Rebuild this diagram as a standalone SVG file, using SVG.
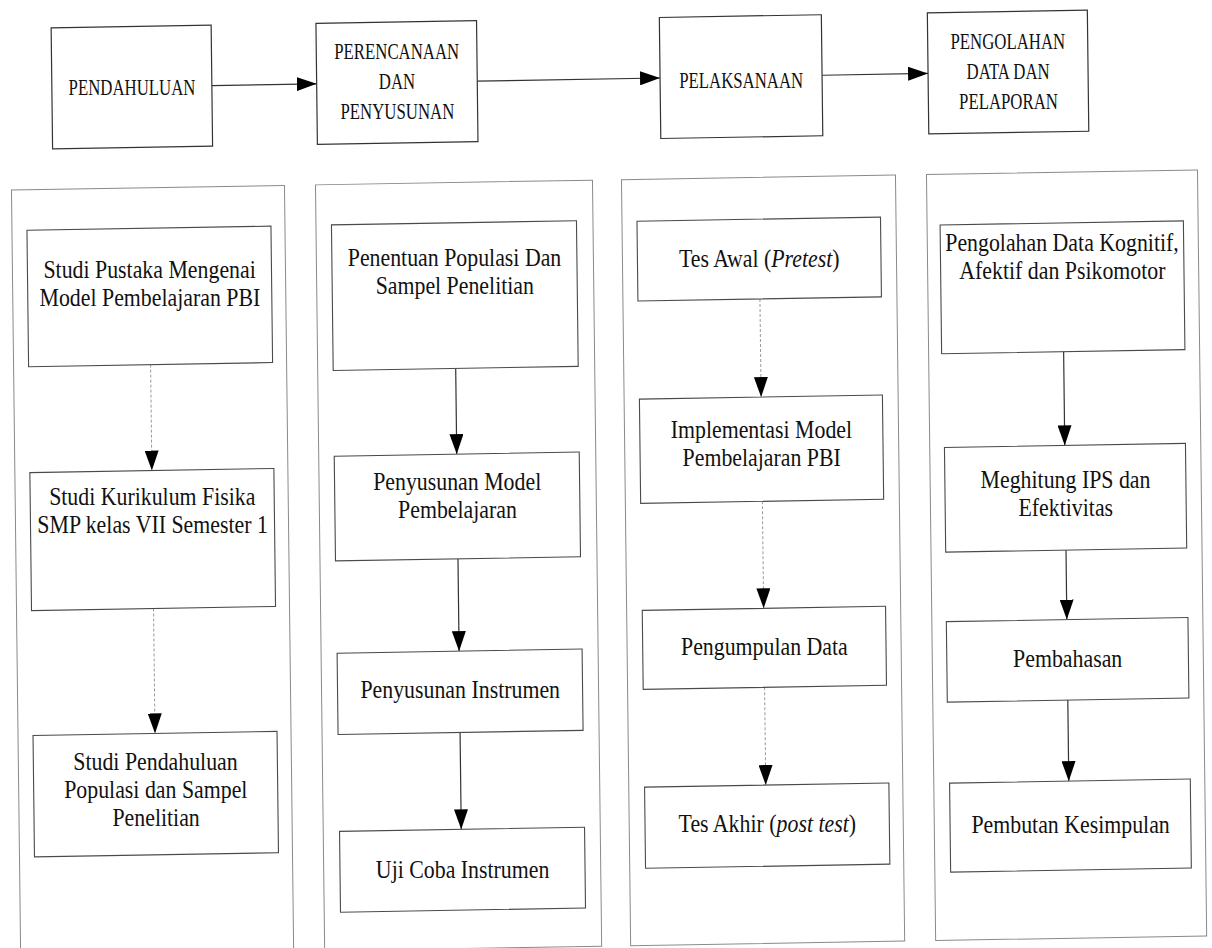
<svg xmlns="http://www.w3.org/2000/svg" width="1212" height="948" viewBox="0 0 1212 948">
<style>
.hbox{fill:#fff;stroke:#333;stroke-width:1.2}
.col{fill:none;stroke:#8a8a8a;stroke-width:1}
.node{fill:#fff;stroke:#4a4a4a;stroke-width:1.1}
.solid{fill:none;stroke:#333;stroke-width:1.2}
.dash{fill:none;stroke:#9a9a9a;stroke-width:1;stroke-dasharray:3 2}
text{font-family:"Liberation Serif","Times New Roman",serif;fill:#111;text-anchor:middle}
.h{font-size:24px}
.b{font-size:25px}
.i{font-style:italic}
</style>
<defs>
<marker id="ah" viewBox="0 0 20 14" refX="20" refY="7" markerWidth="20" markerHeight="14" markerUnits="userSpaceOnUse" orient="auto">
<path d="M0,0 L20,7 L0,14 z" fill="#000"/>
</marker>
</defs>
<rect width="1212" height="948" fill="#fff"/>
<g id="shapes" transform="translate(606 474) matrix(1 -0.017 0.012 1 0 0) translate(-606 -474)">
<g id="columns">
<rect class="col" x="15" y="180" width="273" height="766"/>
<rect class="col" x="319" y="180" width="277" height="766"/>
<rect class="col" x="625" y="180" width="274" height="766"/>
<rect class="col" x="930" y="180" width="271" height="766"/>
</g>
<g id="connectors">
<line class="solid" x1="216.6" y1="79" x2="321.4" y2="79" marker-end="url(#ah)"/>
<line class="solid" x1="482" y1="79" x2="664.8" y2="79" marker-end="url(#ah)"/>
<line class="solid" x1="826.8" y1="79" x2="932.8" y2="79" marker-end="url(#ah)"/>
<line class="dash" x1="152" y1="356.9" x2="152" y2="462.8" marker-end="url(#ah)"/>
<line class="dash" x1="152" y1="600.8" x2="152" y2="725.7" marker-end="url(#ah)"/>
<line class="solid" x1="457" y1="365.9" x2="457" y2="451.6" marker-end="url(#ah)"/>
<line class="solid" x1="457" y1="556.3" x2="457" y2="648.6" marker-end="url(#ah)"/>
<line class="solid" x1="457" y1="729.9" x2="457" y2="826.8" marker-end="url(#ah)"/>
<line class="dash" x1="762" y1="301.6" x2="762" y2="399.7" marker-end="url(#ah)"/>
<line class="dash" x1="762" y1="504" x2="762" y2="611" marker-end="url(#ah)"/>
<line class="dash" x1="762" y1="690" x2="762" y2="787.7" marker-end="url(#ah)"/>
<line class="solid" x1="1065" y1="359.5" x2="1065" y2="453.2" marker-end="url(#ah)"/>
<line class="solid" x1="1065" y1="557.9" x2="1065" y2="627.4" marker-end="url(#ah)"/>
<line class="solid" x1="1065" y1="707.9" x2="1065" y2="788.9" marker-end="url(#ah)"/>
</g>
<g id="pendahuluan-box"><rect class="hbox" x="56.6" y="18.5" width="160" height="121"/></g>
<g id="perencanaan-box"><rect class="hbox" x="321.4" y="18.5" width="160.6" height="121"/></g>
<g id="pelaksanaan-box"><rect class="hbox" x="664.8" y="18.5" width="162" height="121"/></g>
<g id="pengolahan-box"><rect class="hbox" x="932.8" y="18.5" width="160" height="121"/></g>
<g id="studi-pustaka-box"><rect class="node" x="30" y="220.5" width="244" height="136.4"/></g>
<g id="studi-kurikulum-box"><rect class="node" x="30" y="462.8" width="244" height="138"/></g>
<g id="studi-pendahuluan-box"><rect class="node" x="30" y="725.7" width="244" height="121.4"/></g>
<g id="penentuan-populasi-box"><rect class="node" x="334.5" y="220.3" width="245" height="145.6"/></g>
<g id="penyusunan-model-box"><rect class="node" x="334.5" y="451.6" width="245" height="104.7"/></g>
<g id="penyusunan-instrumen-box"><rect class="node" x="335" y="648.6" width="245" height="81.3"/></g>
<g id="uji-coba-box"><rect class="node" x="335.3" y="826.8" width="245" height="80.8"/></g>
<g id="tes-awal-box"><rect class="node" x="640" y="221.8" width="243.5" height="79.8"/></g>
<g id="implementasi-box"><rect class="node" x="640.3" y="399.7" width="243" height="104.3"/></g>
<g id="pengumpulan-box"><rect class="node" x="640.6" y="611" width="243.3" height="79"/></g>
<g id="tes-akhir-box"><rect class="node" x="640.8" y="787.7" width="244.3" height="81.2"/></g>
<g id="pengolahan-data-box"><rect class="node" x="943" y="230.7" width="243.3" height="128.8"/></g>
<g id="menghitung-box"><rect class="node" x="944.7" y="453.2" width="241" height="104.7"/></g>
<g id="pembahasan-box"><rect class="node" x="944.5" y="627.4" width="241.6" height="80.5"/></g>
<g id="kesimpulan-box"><rect class="node" x="945.8" y="788.9" width="240.7" height="89"/></g>
</g>
<g id="labels">
<g id="pendahuluan">
<text class="h" transform="translate(132 0) scale(0.7 1)" x="0" y="95">PENDAHULUAN</text>
</g>
<g id="perencanaan">
<text class="h" transform="translate(396.7 0) scale(0.7 1)" x="0" y="59">PERENCANAAN</text>
<text class="h" transform="translate(397 0) scale(0.7 1)" x="0" y="89">DAN</text>
<text class="h" transform="translate(397.4 0) scale(0.7 1)" x="0" y="119">PENYUSUNAN</text>
</g>
<g id="pelaksanaan">
<text class="h" transform="translate(741.2 0) scale(0.7 1)" x="0" y="87.6">PELAKSANAAN</text>
</g>
<g id="pengolahan">
<text class="h" transform="translate(1007.8 0) scale(0.7 1)" x="0" y="48.6">PENGOLAHAN</text>
<text class="h" transform="translate(1008.1 0) scale(0.7 1)" x="0" y="78.6">DATA DAN</text>
<text class="h" transform="translate(1008.5 0) scale(0.7 1)" x="0" y="108.6">PELAPORAN</text>
</g>
<g id="studi-pustaka">
<text class="b" transform="translate(149.6 0) scale(0.874 1)" x="0" y="277.7">Studi Pustaka Mengenai</text>
<text class="b" transform="translate(149.9 0) scale(0.874 1)" x="0" y="305.7">Model Pembelajaran PBI</text>
</g>
<g id="studi-kurikulum">
<text class="b" transform="translate(152.3 0) scale(0.874 1)" x="0" y="505">Studi Kurikulum Fisika</text>
<text class="b" transform="translate(152.6 0) scale(0.874 1)" x="0" y="533">SMP kelas VII Semester 1</text>
</g>
<g id="studi-pendahuluan">
<text class="b" transform="translate(155.5 0) scale(0.874 1)" x="0" y="769.7">Studi Pendahuluan</text>
<text class="b" transform="translate(155.8 0) scale(0.874 1)" x="0" y="797.7">Populasi dan Sampel</text>
<text class="b" transform="translate(156.1 0) scale(0.874 1)" x="0" y="825.7">Penelitian</text>
</g>
<g id="penentuan-populasi">
<text class="b" transform="translate(454.5 0) scale(0.874 1)" x="0" y="266.5">Penentuan Populasi Dan</text>
<text class="b" transform="translate(454.8 0) scale(0.874 1)" x="0" y="294.5">Sampel Penelitian</text>
</g>
<g id="penyusunan-model">
<text class="b" transform="translate(457.2 0) scale(0.874 1)" x="0" y="490">Penyusunan Model</text>
<text class="b" transform="translate(457.5 0) scale(0.874 1)" x="0" y="518">Pembelajaran</text>
</g>
<g id="penyusunan-instrumen">
<text class="b" transform="translate(460.2 0) scale(0.874 1)" x="0" y="698.3">Penyusunan Instrumen</text>
</g>
<g id="uji-coba">
<text class="b" transform="translate(462.6 0) scale(0.874 1)" x="0" y="878.4">Uji Coba Instrumen</text>
</g>
<g id="tes-awal">
<text class="b" transform="translate(759.3 0) scale(0.874 1)" x="0" y="266.6">Tes Awal (<tspan class="i">Pretest</tspan>)</text>
</g>
<g id="implementasi">
<text class="b" transform="translate(761.4 0) scale(0.874 1)" x="0" y="438">Implementasi Model</text>
<text class="b" transform="translate(761.7 0) scale(0.874 1)" x="0" y="466">Pembelajaran PBI</text>
</g>
<g id="pengumpulan">
<text class="b" transform="translate(764.4 0) scale(0.874 1)" x="0" y="655">Pengumpulan Data</text>
</g>
<g id="tes-akhir">
<text class="b" transform="translate(767.3 0) scale(0.874 1)" x="0" y="831.7">Tes Akhir (<tspan class="i">post test</tspan>)</text>
</g>
<g id="pengolahan-data">
<text class="b" transform="translate(1062 0) scale(0.874 1)" x="0" y="251.2">Pengolahan Data Kognitif,</text>
<text class="b" transform="translate(1062.4 0) scale(0.874 1)" x="0" y="279.2">Afektif dan Psikomotor</text>
</g>
<g id="menghitung">
<text class="b" transform="translate(1065.5 0) scale(0.874 1)" x="0" y="488">Meghitung IPS dan</text>
<text class="b" transform="translate(1065.8 0) scale(0.874 1)" x="0" y="516">Efektivitas</text>
</g>
<g id="pembahasan">
<text class="b" transform="translate(1067.7 0) scale(0.874 1)" x="0" y="666.7">Pembahasan</text>
</g>
<g id="kesimpulan">
<text class="b" transform="translate(1070.6 0) scale(0.874 1)" x="0" y="833.4">Pembutan Kesimpulan</text>
</g>
</g>
</svg>
